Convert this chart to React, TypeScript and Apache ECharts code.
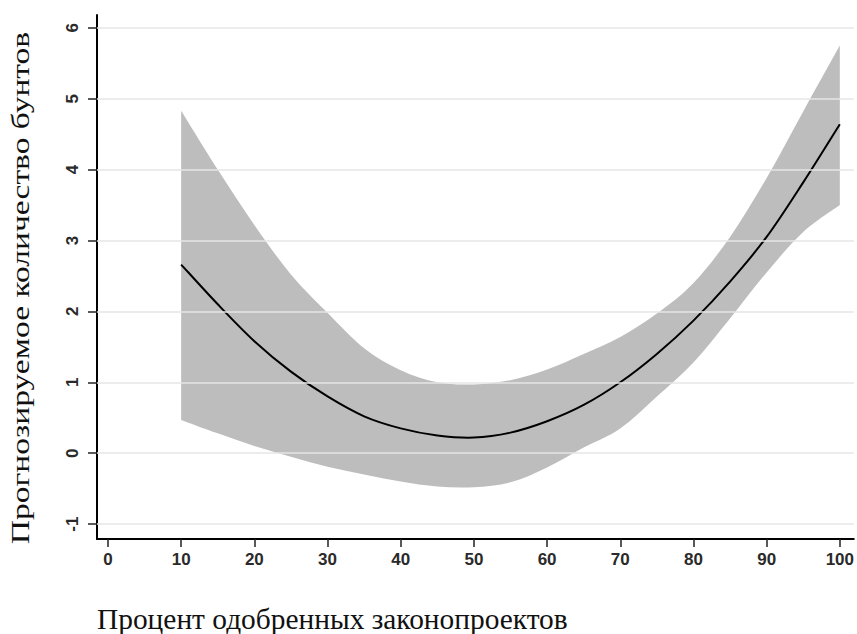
import React, { useEffect, useRef } from "react";
import * as echarts from "echarts";

const xValues = [10, 15, 20, 25, 30, 35, 40, 45, 50, 55, 60, 65, 70, 75, 80, 85, 90, 95, 100];
const fitted = [2.66, 2.1, 1.58, 1.15, 0.8, 0.52, 0.35, 0.25, 0.22, 0.29, 0.45, 0.68, 1.0, 1.4, 1.87, 2.42, 3.05, 3.82, 4.64];
const lowerCI = [0.47, 0.28, 0.1, -0.05, -0.19, -0.3, -0.4, -0.47, -0.48, -0.41, -0.2, 0.08, 0.35, 0.8, 1.28, 1.9, 2.55, 3.12, 3.5];
const upperCI = [4.83, 4.0, 3.22, 2.52, 1.98, 1.48, 1.17, 1.0, 0.97, 1.03, 1.18, 1.4, 1.64, 1.97, 2.4, 3.05, 3.88, 4.82, 5.75];
const yTicks = [-1, 0, 1, 2, 3, 4, 5, 6];
const xTicks = [0, 10, 20, 30, 40, 50, 60, 70, 80, 90, 100];

const yTitle = "Прогнозируемое количество бунтов";
const xTitle = "Процент одобренных законопроектов";

type Pt = number[];

function splinePath(pts: Pt[], start: boolean): string {
  let d = start ? `M${pts[0][0]},${pts[0][1]}` : `L${pts[0][0]},${pts[0][1]}`;
  for (let i = 0; i < pts.length - 1; i++) {
    const p0 = pts[Math.max(0, i - 1)];
    const p1 = pts[i];
    const p2 = pts[i + 1];
    const p3 = pts[Math.min(pts.length - 1, i + 2)];
    const c1x = p1[0] + (p2[0] - p0[0]) / 6;
    const c1y = p1[1] + (p2[1] - p0[1]) / 6;
    const c2x = p2[0] - (p3[0] - p1[0]) / 6;
    const c2y = p2[1] - (p3[1] - p1[1]) / 6;
    d += ` C${c1x},${c1y} ${c2x},${c2y} ${p2[0]},${p2[1]}`;
  }
  return d;
}

export default function App() {
  const ref = useRef<HTMLDivElement>(null);
  useEffect(() => {
    if (!ref.current) return;
    const chart = echarts.init(ref.current, null, { renderer: "svg" });
    const tickFont = {
      fontFamily: "Liberation Sans, Arial, sans-serif",
      fontSize: 17,
      fontWeight: "bold",
      color: "#2a2a2a",
    };
    const bandData = xValues.map((x, i) => [x, lowerCI[i], upperCI[i]]);
    const fitData = xValues.map((x, i) => [x, fitted[i]]);
    chart.setOption({
      animation: false,
      backgroundColor: "#ffffff",
      grid: { left: 97, right: 0, top: 15, bottom: 95, containLabel: false },
      xAxis: {
        type: "value",
        min: -1.5,
        max: 101.9,
        axisLine: { show: true, onZero: false, lineStyle: { color: "#000", width: 2 } },
        axisTick: { show: true, customValues: xTicks, length: 8, lineStyle: { color: "#222", width: 1.5 } },
        axisLabel: { show: true, customValues: xTicks, margin: 12, ...tickFont },
        splitLine: { show: false },
      },
      yAxis: {
        type: "value",
        min: -1.21,
        max: 6.18,
        axisLine: { show: true, onZero: false, lineStyle: { color: "#000", width: 2 } },
        axisTick: { show: true, customValues: yTicks, length: 9, lineStyle: { color: "#222", width: 1.5 } },
        axisLabel: { show: true, customValues: yTicks, rotate: 90, margin: 16, ...tickFont },
        splitLine: { show: false },
      },
      graphic: [
        {
          type: "text",
          x: 20,
          y: 288,
          rotation: Math.PI / 2,
          scaleX: 1.29,
          style: {
            text: yTitle,
            fontFamily: "Liberation Serif, Times New Roman, serif",
            fontSize: 26,
            fill: "#111",
            textAlign: "center",
            textVerticalAlign: "middle",
          },
        },
        {
          type: "text",
          x: 97,
          y: 619,
          scaleX: 0.98,
          style: {
            text: xTitle,
            fontFamily: "Liberation Serif, Times New Roman, serif",
            fontSize: 30,
            fill: "#111",
            textAlign: "left",
            textVerticalAlign: "middle",
          },
        },
      ],
      series: [
        {
          name: "grid",
          type: "line",
          symbol: "none",
          z: 1,
          silent: true,
          lineStyle: { width: 0, opacity: 0 },
          data: fitData,
          markLine: {
            silent: true,
            symbol: "none",
            label: { show: false },
            lineStyle: { color: "#e6e6e6", width: 1.5, type: "solid" },
            data: yTicks.map((v) => ({ yAxis: v })),
          },
        },
        {
          name: "ci",
          type: "custom",
          z: 2,
          silent: true,
          data: bandData,
          encode: { x: 0, y: [1, 2] },
          renderItem: (params: any, api: any) => {
            if (params.dataIndex !== 0) return null;
            const up = bandData.map((d) => api.coord([d[0], d[2]]));
            const lo = bandData.map((d) => api.coord([d[0], d[1]])).reverse();
            const d = splinePath(up, true) + " " + splinePath(lo, false) + " Z";
            return {
              type: "path",
              shape: { pathData: d },
              style: { fill: "#bdbdbd", stroke: "none" },
            };
          },
        },
        {
          name: "fit",
          type: "custom",
          z: 3,
          silent: true,
          data: fitData,
          encode: { x: 0, y: 1 },
          renderItem: (params: any, api: any) => {
            if (params.dataIndex !== 0) return null;
            const pts = fitData.map((d) => api.coord([d[0], d[1]]));
            return {
              type: "path",
              shape: { pathData: splinePath(pts, true) },
              style: { fill: "none", stroke: "#000", lineWidth: 2 },
            };
          },
        },
      ],
    });
    return () => chart.dispose();
  }, []);
  return <div ref={ref} style={{ width: 857, height: 634, position: "absolute", left: 0, top: 0 }} />;
}
